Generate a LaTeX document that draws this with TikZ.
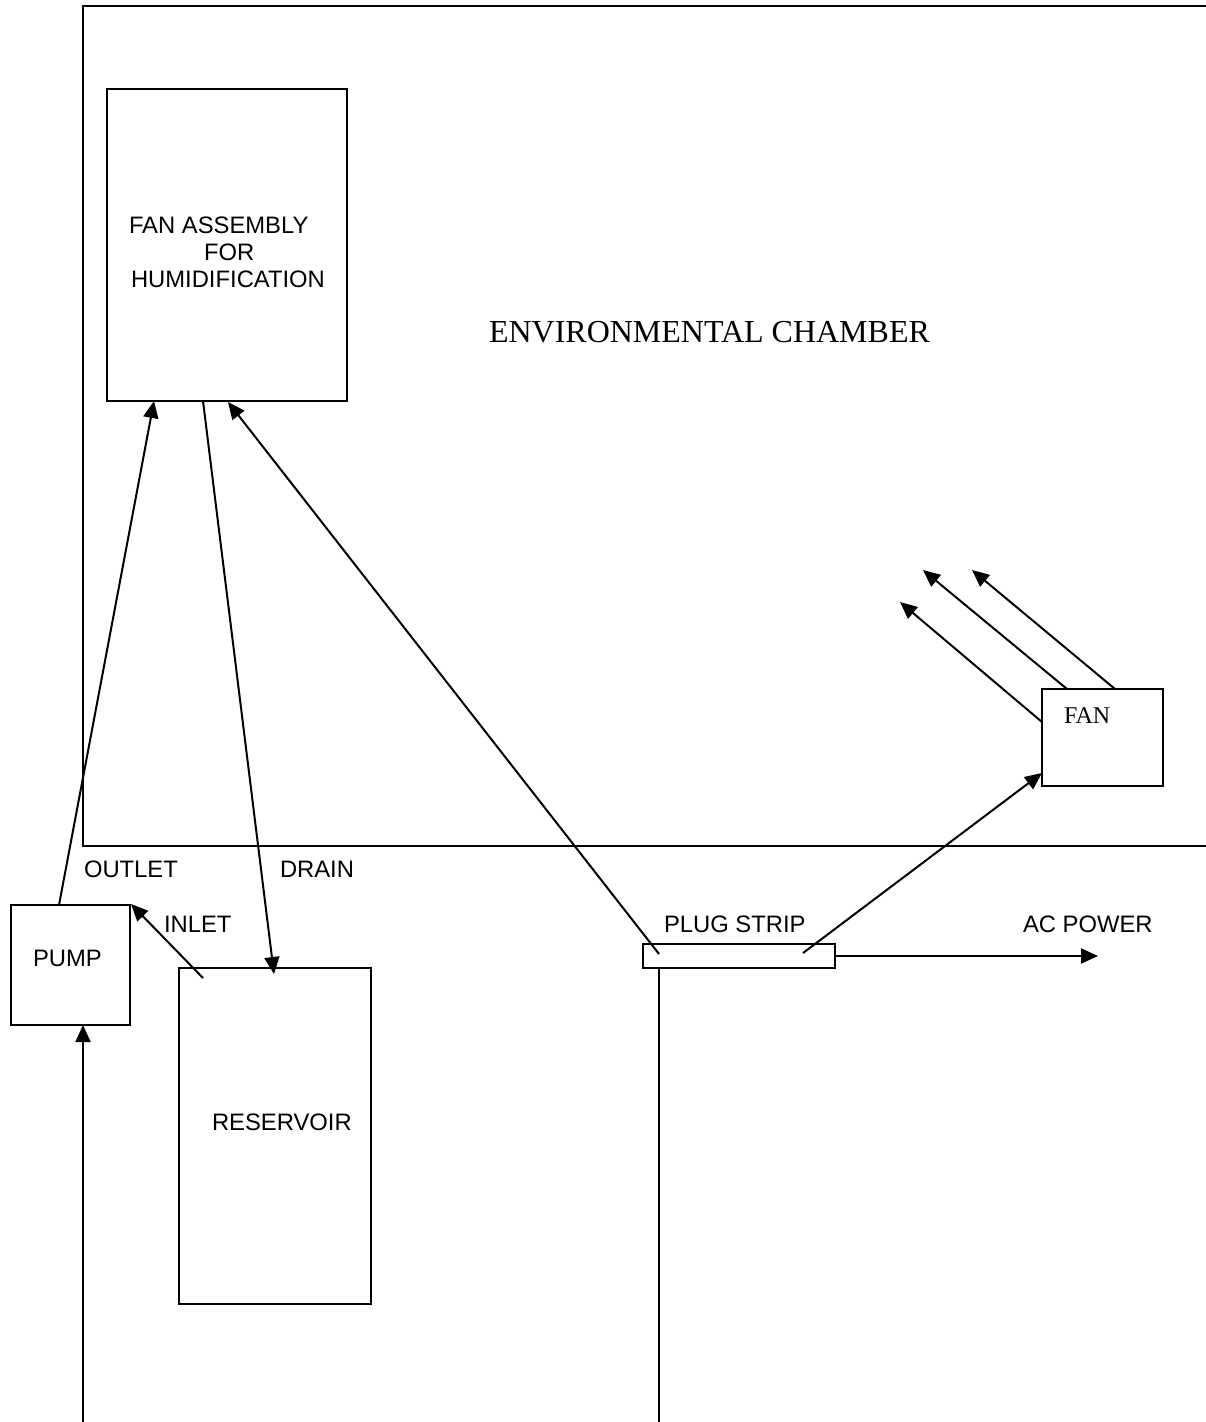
\documentclass[tikz,border=0pt]{standalone}
\usepackage{fontspec}
\setmainfont{Liberation Serif}
\newfontfamily\arialf{Liberation Sans}
\usetikzlibrary{arrows.meta,calc}
\begin{document}
\begin{tikzpicture}[x=1pt,y=-1pt,
  line width=2pt,
  box/.style={draw,rectangle,inner sep=0pt},
  arr/.style={-{Triangle[length=17pt,width=15pt]}},
  lbl/.style={anchor=base west,inner sep=0pt,font=\arialf\fontsize{23.8}{27}\selectfont},
  slbl/.style={anchor=base west,inner sep=0pt,font=\fontsize{24}{28}\selectfont}]
\useasboundingbox (0,0) rectangle (1206,1422);
% chamber
\coordinate (chTR) at (1206,6);
\coordinate (chTL) at (83,6);
\coordinate (chBL) at (83,846);
\coordinate (chBR) at (1206,846);
\draw (chTR) -- (chTL) -- (chBL) -- (chBR);
\node[slbl,font=\fontsize{32}{36}\selectfont] (chtxt) at (488,342) {ENVIRONMENTAL CHAMBER};
% boxes
\node[box,minimum width=240pt,minimum height=312pt] (fa) at (227,245) {};
\node[box,minimum width=119pt,minimum height=120pt] (pump) at (70.5,965) {};
\node[box,minimum width=192pt,minimum height=336pt] (res) at (275,1136) {};
\node[box,minimum width=192pt,minimum height=24pt] (strip) at (739,956) {};
\node[box,minimum width=121pt,minimum height=97pt] (fan) at (1102.5,737.5) {};
% texts
\node[lbl] (t1) at (128,233) {FAN ASSEMBLY};
\node[lbl] (t2) at (203,260) {FOR};
\node[lbl] (t3) at (130,287) {HUMIDIFICATION};
\node[slbl] (tfan) at (1063,723) {FAN};
\node[lbl] (tout) at (83,877) {OUTLET};
\node[lbl] (tdrain) at (279,877) {DRAIN};
\node[lbl] (tinlet) at (163,932) {INLET};
\node[lbl] (tpump) at (32,966) {PUMP};
\node[lbl] (tres) at (211,1130) {RESERVOIR};
\node[lbl] (tstrip) at (663,932) {PLUG STRIP};
\node[lbl] (tac) at (1022,932) {AC POWER};
% connector points
\coordinate (faIn) at (154,401);
\coordinate (faOut) at (203,401);
\coordinate (faPow) at (228,402);
\coordinate (pumpOut) at (59,905);
\coordinate (resIn) at (274,974);
\coordinate (resOut) at (203,978);
\coordinate (stripA) at (659,954);
\coordinate (stripB) at (803,953);
\coordinate (fanIn) at (1042,773);
\coordinate (acEnd) at (1098,956);
\coordinate (pumpSrc) at (83,1422);
\coordinate (pumpBot) at (83,1025);
\coordinate (stripDown) at (659,1422);
\coordinate (fanA1) at (1042,722);
\coordinate (fanT1) at (900,602);
\coordinate (fanA2) at (1067,689);
\coordinate (fanT2) at (923,570);
\coordinate (fanA3) at (1115,689);
\coordinate (fanT3) at (972,570);
% connectors
\draw[arr] (pumpOut) -- (faIn);
\draw[arr] (faOut) -- (resIn);
\draw[arr] (resOut) -- (pump.north east);
\draw[arr] (stripA) -- (faPow);
\draw[arr] (stripB) -- (fanIn);
\draw[arr] (strip.east) -- (acEnd);
\draw (strip.south -| stripA) -- (stripDown);
\draw[arr] (pumpSrc) -- (pumpBot);
\draw[arr] (fanA1) -- (fanT1);
\draw[arr] (fanA2) -- (fanT2);
\draw[arr] (fanA3) -- (fanT3);
\end{tikzpicture}
\end{document}
